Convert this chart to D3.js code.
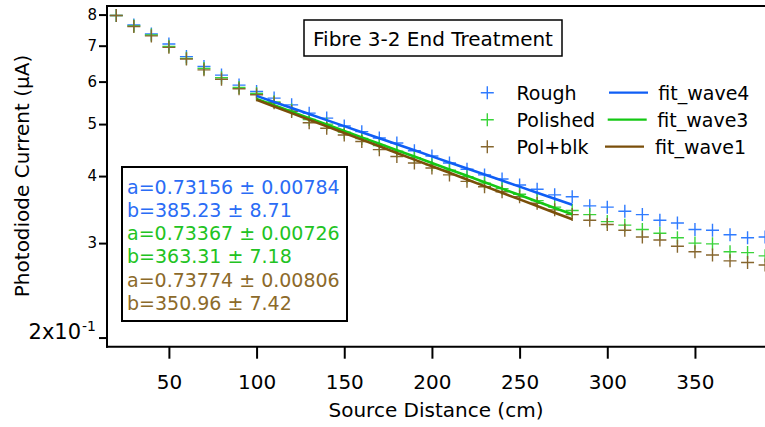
<!DOCTYPE html>
<html>
<head>
<meta charset="utf-8">
<script src="https://cdn.jsdelivr.net/npm/d3@7"></script>
<style>
  html, body { margin: 0; padding: 0; background: #fff; }
  svg { display: block; }
  text { font-family: "DejaVu Sans", sans-serif; }
</style>
</head>
<body>
<svg id="chart" width="765" height="427"></svg>
<script>
// ---------- data ----------
const distance = [20,30,40,50,60,70,80,90,100,110,120,130,140,150,160,170,180,190,200,
                  210,220,230,240,250,260,270,280,290,300,310,320,330,340,350,360,370,380,390];
const rough    = [0.797,0.765,0.736,0.705,0.668,0.640,0.617,0.591,0.575,0.559,0.543,0.524,0.513,0.496,
                  0.484,0.471,0.461,0.446,0.436,0.423,0.412,0.402,0.395,0.385,0.378,0.369,0.366,0.352,
                  0.350,0.344,0.339,0.331,0.327,0.318,0.317,0.311,0.307,0.308];
const polished = [0.797,0.762,0.733,0.698,0.663,0.635,0.610,0.585,0.570,0.550,0.531,0.510,0.500,0.483,
                  0.470,0.456,0.445,0.433,0.420,0.410,0.399,0.388,0.379,0.370,0.360,0.350,0.345,0.339,
                  0.329,0.324,0.318,0.313,0.307,0.300,0.299,0.289,0.288,0.284];
const polBlk   = [0.797,0.760,0.730,0.695,0.661,0.631,0.606,0.582,0.567,0.548,0.528,0.503,0.491,0.477,
                  0.464,0.448,0.435,0.423,0.414,0.402,0.391,0.382,0.374,0.366,0.356,0.346,0.339,0.331,
                  0.325,0.317,0.308,0.304,0.296,0.289,0.285,0.278,0.276,0.273];

const fitX     = [100,110,120,130,140,150,160,170,180,190,200,210,220,230,240,250,260,270,280];
const fitWave4 = [0.5643,0.5498,0.5358,0.5220,0.5086,0.4956,0.4829,0.4705,0.4585,0.4467,0.4353,
                  0.4241,0.4133,0.4027,0.3924,0.3823,0.3725,0.3630,0.3537];
const fitWave3 = [0.5571,0.5420,0.5273,0.5130,0.4991,0.4855,0.4723,0.4595,0.4470,0.4349,0.4231,
                  0.4116,0.4004,0.3895,0.3790,0.3687,0.3587,0.3489,0.3395];
const fitWave1 = [0.5548,0.5393,0.5241,0.5094,0.4951,0.4812,0.4677,0.4545,0.4418,0.4293,0.4173,
                  0.4056,0.3942,0.3831,0.3723,0.3619,0.3517,0.3418,0.3322];

const seriesNames = ["Rough","Polished","Pol+blk"];
const fitNames    = ["fit_wave4","fit_wave3","fit_wave1"];
const fitLines    = ["a=0.73156 \u00b1 0.00784","b=385.23 \u00b1 8.71",
                     "a=0.73367 \u00b1 0.00726","b=363.31 \u00b1 7.18",
                     "a=0.73774 \u00b1 0.00806","b=350.96 \u00b1 7.42"];
const xTicks = [50,100,150,200,250,300,350];
const yTicks = [0.8,0.7,0.6,0.5,0.4,0.3,0.2];
const yTickLabels = ["8","7","6","5","4","3","2x10"];
const titleText = "Fibre 3-2 End Treatment";

// ---------- styles ----------
const markColors = ["#2f7bff","#3ad43a","#86662e"];
const lineColors = ["#0f5ef5","#14c814","#7a4f0a"];
const textColors = ["#2a6cf5","#22c322","#8c6a2a"];

const svg = d3.select("#chart");
const L = 107, T = 6, B = 346.7, R = 765;

const x = d3.scaleLinear().domain([14.7, 390]).range([L, 765.1]);
const y = d3.scaleLog().domain([0.1923, 0.830]).range([B, T]);

// clip
svg.append("defs").append("clipPath").attr("id","plotclip")
  .append("rect").attr("x", L).attr("y", T - 8).attr("width", R - L + 10).attr("height", B - T + 8);

// points
const plotG = svg.append("g").attr("clip-path","url(#plotclip)");
const allSeries = [rough, polished, polBlk];
allSeries.forEach((vals, si) => {
  const g = plotG.append("g");
  g.selectAll("path").data(vals).join("path")
    .attr("d", (d, i) => {
      const cx = x(distance[i]), cy = y(d), h = 6.5;
      return `M${cx - h},${cy}H${cx + h}M${cx},${cy - h}V${cy + h}`;
    })
    .attr("stroke", markColors[si]).attr("stroke-width", 1.4).attr("fill", "none");
});

// fit lines
const fits = [fitWave4, fitWave3, fitWave1];
const lineGen = d3.line().x((d, i) => x(fitX[i])).y(d => y(d));
fits.forEach((vals, si) => {
  plotG.append("path").datum(vals).attr("d", lineGen)
    .attr("fill","none").attr("stroke", lineColors[si]).attr("stroke-width", 2.6);
});

// frame lines
svg.append("line").attr("x1", L).attr("x2", L).attr("y1", T - 1).attr("y2", B + 1)
  .attr("stroke","#000").attr("stroke-width",2);
svg.append("line").attr("x1", L - 1).attr("x2", R).attr("y1", B).attr("y2", B)
  .attr("stroke","#000").attr("stroke-width",2);
svg.append("line").attr("x1", L - 1).attr("x2", R).attr("y1", T).attr("y2", T)
  .attr("stroke","#000").attr("stroke-width",2);

// axes
const xAxis = d3.axisBottom(x).tickValues(xTicks).tickSize(12).tickPadding(16).tickSizeOuter(0);
const gx = svg.append("g").attr("transform", `translate(0,${B})`).call(xAxis);
gx.select(".domain").remove();
gx.selectAll(".tick line").attr("stroke","#000").attr("stroke-width",2);
gx.selectAll(".tick text").attr("font-size", 20).attr("fill","#000")
  .style("font-family", '"DejaVu Sans", sans-serif');

const yAxis = d3.axisLeft(y).tickValues(yTicks)
  .tickFormat((d, i) => yTickLabels[i]).tickSize(8).tickPadding(2).tickSizeOuter(0);
const gy = svg.append("g").attr("transform", `translate(${L},0)`).call(yAxis);
gy.select(".domain").remove();
gy.selectAll(".tick line").attr("stroke","#000").attr("stroke-width",2);
gy.selectAll(".tick text").attr("font-size", 15).attr("fill","#000")
  .style("font-family", '"DejaVu Sans", sans-serif');
// exponent label for 0.2
gy.selectAll(".tick").filter(d => d === 0.2).select("text")
  .attr("font-size", 21).attr("dy", "0.05em").attr("x", -11)
  .each(function() {
    d3.select(this).append("tspan").attr("font-size", 14).attr("dy", "-0.6em").attr("dx", "1").text("-1");
  });

// axis titles
svg.append("text").attr("x", 436).attr("y", 417).attr("text-anchor","middle")
  .attr("font-size", 20).text("Source Distance (cm)");
svg.append("text").attr("transform", "translate(29,176) rotate(-90)").attr("text-anchor","middle")
  .attr("font-size", 20).text("Photodiode Current (\u03bcA)");

// title box
svg.append("rect").attr("x", 304).attr("y", 20).attr("width", 258).attr("height", 36)
  .attr("fill","#fff").attr("stroke","#000").attr("stroke-width",1.5);
svg.append("text").attr("x", 433).attr("y", 45.5).attr("text-anchor","middle")
  .attr("font-size", 20).text(titleText);

// fit result box
svg.append("rect").attr("x", 122).attr("y", 167).attr("width", 225).attr("height", 154)
  .attr("fill","#fff").attr("stroke","#000").attr("stroke-width",2);
svg.append("g").selectAll("text").data(fitLines).join("text")
  .attr("x", 127).attr("y", (d, i) => 193.5 + i * 23.3)
  .attr("font-size", 19).attr("fill", (d, i) => textColors[Math.floor(i / 2)])
  .text(d => d);

// legend
const legend = svg.append("g");
seriesNames.forEach((name, i) => {
  const base = 100 + i * 27, cy = base - 7.3;
  legend.append("path")
    .attr("d", `M${487.3 - 6.5},${cy}H${487.3 + 6.5}M487.3,${cy - 6.5}V${cy + 6.5}`)
    .attr("stroke", markColors[i]).attr("stroke-width", 1.4).attr("fill","none");
  legend.append("text").attr("x", 516.5).attr("y", base).attr("font-size", 19).text(name);
  const lx = [609, 607.7, 605][i];
  legend.append("line").attr("x1", lx).attr("x2", lx + 39).attr("y1", cy).attr("y2", cy)
    .attr("stroke", lineColors[i]).attr("stroke-width", 2.3);
  legend.append("text").attr("x", [658.3, 657.3, 655][i]).attr("y", base)
    .attr("font-size", 19).text(fitNames[i]);
});
</script>
</body>
</html>
